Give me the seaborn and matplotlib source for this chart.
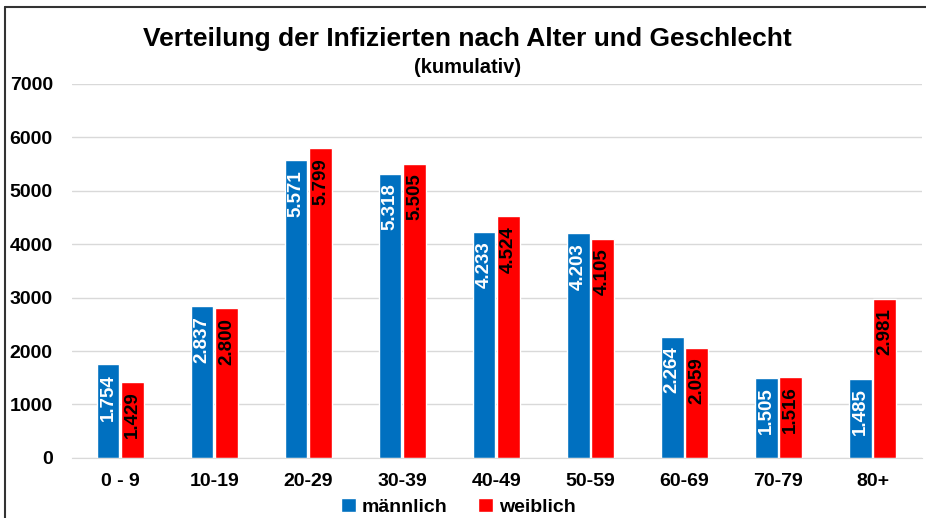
import pandas as pd
import seaborn as sns
import matplotlib.pyplot as plt
from matplotlib.lines import Line2D

age_groups = ['0 - 9', '10-19', '20-29', '30-39', '40-49', '50-59', '60-69', '70-79', '80+']
male = [1754, 2837, 5571, 5318, 4233, 4203, 2264, 1505, 1485]
female = [1429, 2800, 5799, 5505, 4524, 4105, 2059, 1516, 2981]
y_ticks = [0, 1000, 2000, 3000, 4000, 5000, 6000, 7000]

df = pd.DataFrame({
    'Alter': age_groups * 2,
    'Anzahl': male + female,
    'Geschlecht': ['männlich'] * len(male) + ['weiblich'] * len(female),
})

sns.set_style('white')
plt.rcParams['font.family'] = ['Liberation Sans', 'DejaVu Sans']
plt.rcParams['font.weight'] = 'bold'
plt.rcParams['text.color'] = 'black'
plt.rcParams['xtick.color'] = 'black'
plt.rcParams['ytick.color'] = 'black'

fig = plt.figure(figsize=(9.26, 5.18), dpi=100)
ax = fig.add_axes([0.078, 0.116, 0.918, 0.722])

palette = {'männlich': '#0070C0', 'weiblich': '#FF0000'}
sns.barplot(data=df, x='Alter', y='Anzahl', hue='Geschlecht', palette=palette,
            width=0.52, gap=0.07, saturation=1, ax=ax, legend=True)

# labels inside the bars, rotated, german thousands separator
for cont, col in zip(ax.containers, ['white', 'black']):
    for bar in cont:
        h = bar.get_height()
        ax.annotate(f'{int(h):,}'.replace(',', '.'),
                    xy=(bar.get_x() + bar.get_width() / 2, h),
                    xytext=(0, -7), textcoords='offset points',
                    rotation=90, ha='center', va='top',
                    color=col, fontsize=13.5, fontweight='bold')

ax.set_ylim(0, 7000)
ax.set_xlim(-0.51, 8.53)
ax.set_yticks(y_ticks)
ax.set_yticklabels([str(t) for t in y_ticks], fontsize=14, fontweight='bold')
ax.tick_params(axis='x', labelsize=14, pad=11, length=0, colors='black')
ax.tick_params(axis='y', length=0, pad=14, colors='black')
for lbl in ax.get_xticklabels():
    lbl.set_fontweight('bold')
ax.set_xlabel('')
ax.set_ylabel('')
ax.yaxis.grid(True, color='#d9d9d9', linewidth=1)
ax.set_axisbelow(True)
for s in ['top', 'right', 'left']:
    ax.spines[s].set_visible(False)
ax.spines['bottom'].set_color('#d9d9d9')

handles, labels = ax.get_legend_handles_labels()
ax.get_legend().remove()
fig.legend(handles, labels, loc='center', bbox_to_anchor=(0.495, 0.021), ncol=2,
           frameon=False, handlelength=0.75, handleheight=0.75, handletextpad=0.3,
           columnspacing=1.6, prop={'size': 14, 'weight': 'bold'})

fig.text(0.505, 0.925, 'Verteilung der Infizierten nach Alter und Geschlecht',
         ha='center', va='center', fontsize=19, fontweight='bold', color='black')
fig.text(0.505, 0.869, '(kumulativ)', ha='center', va='center', fontsize=14.5,
         fontweight='bold', color='black')

# chart border
fig.add_artist(Line2D([0.0055, 1.0], [0.986, 0.986], color='#333333', linewidth=1.5))
fig.add_artist(Line2D([0.0055, 0.0055], [0.0, 0.986], color='#333333', linewidth=1.5))

fig.savefig('out.png', dpi=100)
